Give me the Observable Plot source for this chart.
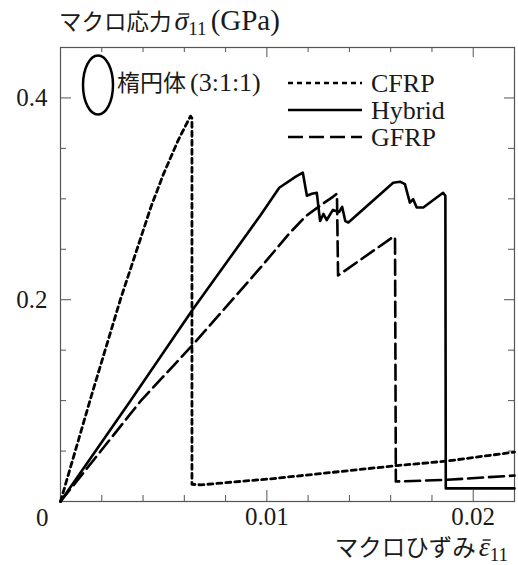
<!DOCTYPE html>
<html>
<head>
<meta charset="utf-8">
<script src="https://cdn.jsdelivr.net/npm/d3@7"></script>
<script src="https://cdn.jsdelivr.net/npm/@observablehq/plot@0.6"></script>
<style>
  html, body { margin: 0; padding: 0; background: white; }
  #chart { width: 518px; height: 565px; }
</style>
</head>
<body>
<div id="chart"></div>
<script>
// ---- data ----
const cfrpX = [0, 0.0015, 0.0029, 0.0044, 0.0050, 0.0057, 0.0063, 0.00637, 0.00637, 0.0068, 0.0102, 0.0163, 0.0187, 0.0220];
const cfrpY = [0, 0.105, 0.200, 0.293, 0.325, 0.358, 0.382, 0.380, 0.017, 0.0165, 0.0225, 0.0356, 0.0400, 0.0490];

const hybridX = [0, 0.0034, 0.0064, 0.0097, 0.0106, 0.0114, 0.01174, 0.01194, 0.01218, 0.01242, 0.01258, 0.01274, 0.0129, 0.0132, 0.0135, 0.01365, 0.0138, 0.01395, 0.01612, 0.01645, 0.01669, 0.01693, 0.01709, 0.01726, 0.01758, 0.01854, 0.01865, 0.01867, 0.0220];
const hybridY = [0, 0.100, 0.190, 0.284, 0.311, 0.322, 0.326, 0.303, 0.305, 0.306, 0.278, 0.285, 0.279, 0.289, 0.287, 0.292, 0.278, 0.2765, 0.316, 0.317, 0.3146, 0.2963, 0.2997, 0.2914, 0.2914, 0.306, 0.303, 0.013, 0.013];

const gfrpX = [0, 0.0039, 0.0064, 0.0097, 0.0111, 0.0119, 0.0127, 0.0132, 0.01338, 0.0134, 0.01345, 0.0161, 0.01621, 0.01625, 0.0187, 0.0220];
const gfrpY = [0, 0.100, 0.155, 0.232, 0.266, 0.283, 0.295, 0.302, 0.305, 0.300, 0.224, 0.262, 0.262, 0.0198, 0.0215, 0.0257];

const seriesNames = ["CFRP", "Hybrid", "GFRP"];
const seriesDash = ["5,4", null, "15,6"];

const xMajor = [0.01, 0.02];
const xTickLabels = ["0.01", "0.02"];
const xMinor = [0.002, 0.004, 0.006, 0.008, 0.012, 0.014, 0.016, 0.018];
const yMajor = [0.2, 0.4];
const yTickLabels = ["0.2", "0.4"];
const yMinor = [0.05, 0.1, 0.15, 0.25, 0.3, 0.35];
const originLabel = ["0"];

// ---- build tables ----
const toRows = (xs, ys) => xs.map((x, i) => ({x, y: ys[i]}));
const cfrp = toRows(cfrpX, cfrpY);
const hybrid = toRows(hybridX, hybridY);
const gfrp = toRows(gfrpX, gfrpY);

const W = 518, H = 565, mL = 60, mR = 4, mT = 47, mB = 64;
const innerH = H - mT - mB, innerW = W - mL - mR;
const tickCol = "#555";
const serif = "'Liberation Serif', 'Times New Roman', serif";
const jp = "'Noto Sans CJK JP', sans-serif";

const chart = Plot.plot({
  width: W, height: H,
  marginLeft: mL, marginRight: mR, marginTop: mT, marginBottom: mB,
  x: {domain: [0, 0.022]},
  y: {domain: [0, 0.45]},
  style: {fontFamily: serif, fontSize: "25px", background: "white", color: "#1a1a1a"},
  marks: [
    // inward ticks
    Plot.tickX(xMajor, {x: d => d, insetTop: innerH - 11, stroke: tickCol}),
    Plot.tickX(xMinor, {x: d => d, insetTop: innerH - 6, stroke: tickCol}),
    Plot.tickX(xMajor, {x: d => d, insetBottom: innerH - 10, stroke: tickCol}),
    Plot.tickX(xMinor, {x: d => d, insetBottom: innerH - 5, stroke: tickCol}),
    Plot.tickY(yMajor, {y: d => d, insetRight: innerW - 11, stroke: tickCol}),
    Plot.tickY(yMinor, {y: d => d, insetRight: innerW - 6, stroke: tickCol}),
    Plot.tickY(yMajor, {y: d => d, insetLeft: innerW - 10, stroke: tickCol}),
    Plot.tickY(yMinor, {y: d => d, insetLeft: innerW - 6, stroke: tickCol}),
    Plot.frame({stroke: tickCol, strokeWidth: 1.2}),
    // series
    Plot.line(cfrp, {x: "x", y: "y", stroke: "black", strokeWidth: 2.8, strokeDasharray: seriesDash[0]}),
    Plot.line(hybrid, {x: "x", y: "y", stroke: "black", strokeWidth: 2.6}),
    Plot.line(gfrp, {x: "x", y: "y", stroke: "black", strokeWidth: 2.6, strokeDasharray: seriesDash[2]}),
    // axes
    Plot.axisX({ticks: xMajor, tickSize: 0, tickPadding: 6, label: null, fontSize: 25,
      tickFormat: d => xTickLabels[xMajor.indexOf(d)]}),
    Plot.axisY({ticks: yMajor, tickSize: 0, tickPadding: 13, label: null, fontSize: 25,
      tickFormat: d => yTickLabels[yMajor.indexOf(d)]}),
    Plot.text(originLabel, {x: d => 0, y: d => 0, text: d => d, dx: -12, dy: 16,
      textAnchor: "end", fontSize: 25})
  ]
});

document.getElementById("chart").appendChild(chart);

// ---- decorations: title, x label, legend ----
const svg = d3.select(chart);
const g = svg.append("g").attr("fill", "#1a1a1a").attr("text-anchor", "start");

function addBar(textSel, charIndex, y) {
  const node = textSel.node();
  const s = node.getStartPositionOfChar(charIndex);
  const e = node.getEndPositionOfChar(charIndex);
  g.append("line").attr("x1", s.x + 4).attr("x2", e.x + 1).attr("y1", y).attr("y2", y)
    .attr("stroke", "#1a1a1a").attr("stroke-width", 1.4);
}

// y title
const t = g.append("text").attr("x", 59).attr("y", 30);
t.append("tspan").attr("font-family", jp).attr("font-size", 22.5).text("マクロ応力");
t.append("tspan").attr("font-family", serif).attr("font-style", "italic").attr("font-size", 28).attr("dx", 3).text("σ");
t.append("tspan").attr("font-family", serif).attr("font-size", 19).attr("dy", 5).text("11");
t.append("tspan").attr("font-family", serif).attr("font-size", 29).attr("dy", -5).attr("dx", 4).text("(GPa)");
addBar(t, 5, 14);

// x title
const xt = g.append("text").attr("x", 508).attr("y", 556).attr("text-anchor", "end");
xt.append("tspan").attr("font-family", jp).attr("font-size", 23.5).text("マクロひずみ");
xt.append("tspan").attr("font-family", serif).attr("font-style", "italic").attr("font-size", 28).attr("dx", 3).text("ε");
xt.append("tspan").attr("font-family", serif).attr("font-size", 19).attr("dy", 5).text("11");
addBar(xt, 6, 540);

// ellipse annotation
g.append("ellipse").attr("cx", 98).attr("cy", 85).attr("rx", 15).attr("ry", 29.5)
  .attr("fill", "none").attr("stroke", "black").attr("stroke-width", 2.5);
const et = g.append("text").attr("x", 117).attr("y", 91);
et.append("tspan").attr("font-family", jp).attr("font-size", 23).text("楕円体");
et.append("tspan").attr("font-family", serif).attr("font-size", 26).attr("dx", 4).text("(3:1:1)");

// legend
const rowsY = [83, 110, 137];
seriesNames.forEach((name, i) => {
  const ln = g.append("line").attr("x1", 288).attr("x2", 362).attr("y1", rowsY[i]).attr("y2", rowsY[i])
    .attr("stroke", "black").attr("stroke-width", 2.6);
  if (seriesDash[i]) ln.attr("stroke-dasharray", seriesDash[i]);
  g.append("text").attr("x", 371).attr("y", rowsY[i] + 9).attr("font-family", serif)
    .attr("font-size", 26).text(name);
});
</script>
</body>
</html>
